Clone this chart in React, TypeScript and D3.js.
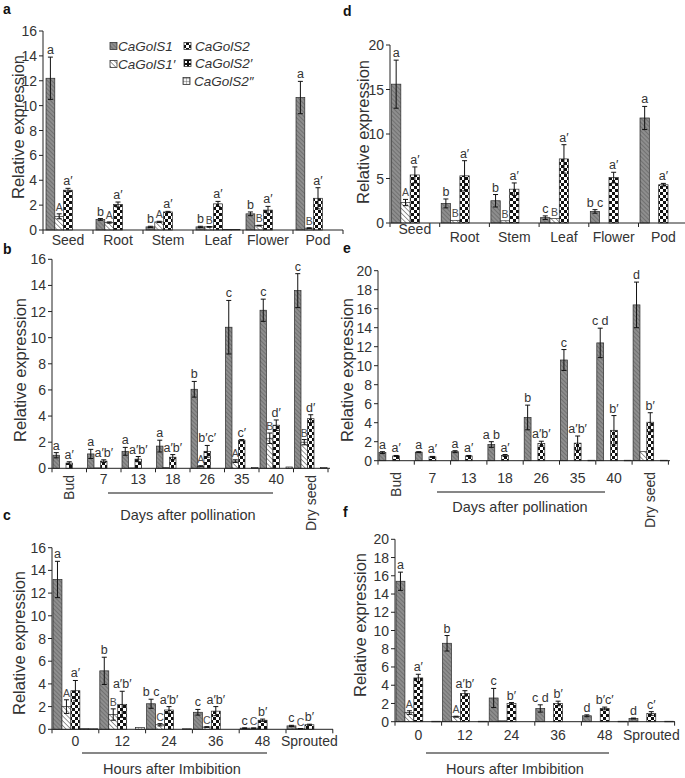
import React from "react";
import * as d3 from "d3";

const SERIES = ["CaGolS1", "CaGolS1′", "CaGolS2", "CaGolS2′", "CaGolS2″"];

// ---------- panel a (tissues, CaGolS1 family) ----------
const catsA = ["Seed", "Root", "Stem", "Leaf", "Flower", "Pod"];
const aS1 = [12.2, 0.85, 0.25, 0.25, 1.3, 10.65];
const aS1e = [1.7, 0.07, 0.05, 0.05, 0.15, 1.3];
const aS1p = [1.1, 0.6, 0.65, 0.25, 0.35, 0.15];
const aS1pe = [0.2, 0.05, 0.05, 0.03, 0.03, 0.03];
const aS2 = [3.2, 2.05, 1.45, 2.1, 1.6, 2.55];
const aS2e = [0.15, 0.2, 0.05, 0.2, 0.3, 0.85];
const aS2p = [0, 0, 0, 0.05, 0, 0];
const aS2pp = [0, 0, 0, 0.05, 0, 0];
const aLab1 = ["a", "b", "b", "b", "b", "a"];
const aLab1p = ["A", "A", "A", "B", "B", "B"];
const aLab2 = ["a′", "a′", "a′", "a′", "a′", "a′"];

// ---------- panel d ----------
const catsD = ["Seed", "Root", "Stem", "Leaf", "Flower", "Pod"];
const dS1 = [15.6, 2.2, 2.5, 0.6, 1.3, 11.8];
const dS1e = [2.7, 0.5, 0.7, 0.2, 0.2, 1.3];
const dS1p = [2.3, 0.3, 0.25, 0.5, 0, 0];
const dS1pe = [0.35, 0, 0, 0, 0, 0];
const dS2 = [5.4, 5.3, 3.8, 7.2, 5.1, 4.3];
const dS2e = [0.9, 1.7, 0.7, 1.6, 0.6, 0.15];
const dS2p = [0, 0, 0, 0, 0, 0];
const dS2pp = [0, 0, 0, 0, 0, 0];
const dLab1 = ["a", "b", "b", "c", "b c", "a"];
const dLab1p = ["A", "B", "B", "B", "", ""];
const dLab2 = ["a′", "a′", "a′", "a′", "a′", "a′"];

// ---------- panel b (seed development) ----------
const catsB = ["Bud", "7", "13", "18", "26", "35", "40", "Dry seed"];
const bS1 = [1.0, 1.1, 1.3, 1.7, 6.05, 10.8, 12.1, 13.6];
const bS1e = [0.2, 0.35, 0.3, 0.45, 0.6, 2.05, 0.85, 1.3];
const bS1p = [0, 0.03, 0.03, 0.05, 0.15, 0.55, 2.3, 2.0];
const bS1pe = [0, 0, 0, 0, 0.05, 0.1, 0.4, 0.2];
const bS2 = [0.4, 0.55, 0.7, 0.85, 1.3, 2.15, 3.3, 3.8];
const bS2e = [0.1, 0.1, 0.2, 0.2, 0.45, 0.05, 0.4, 0.3];
const bS2p = [0, 0, 0, 0, 0, 0, 0, 0];
const bS2pp = [0, 0, 0, 0, 0, 0.05, 0.1, 0.05];
const bLab1 = ["a", "a", "a", "a", "b", "c", "c", "c"];
const bLab1p = ["", "", "", "", "A", "A", "B", "B"];
const bLab2 = ["a′", "a′b′", "a′b′", "a′b′", "b′c′", "c′", "d′", "d′"];

// ---------- panel e ----------
const catsE = ["Bud", "7", "13", "18", "26", "35", "40", "Dry seed"];
const eS1 = [0.85, 0.9, 0.95, 1.7, 4.55, 10.6, 12.4, 16.4];
const eS1e = [0.1, 0.05, 0.1, 0.3, 1.3, 1.1, 1.55, 2.4];
const eS1p = [0, 0, 0, 0, 0, 0, 0, 0.95];
const eS1pe = [0, 0, 0, 0, 0, 0, 0, 0];
const eS2 = [0.5, 0.4, 0.5, 0.55, 1.8, 1.85, 3.2, 4.05];
const eS2e = [0.05, 0.05, 0.05, 0.1, 0.25, 0.75, 1.55, 1.0];
const eS2p = [0, 0, 0, 0, 0, 0, 0, 0];
const eS2pp = [0, 0, 0, 0, 0, 0.05, 0.05, 0.05];
const eLab1 = ["a", "a", "a", "a b", "b", "c", "c d", "d"];
const eLab1p = ["", "", "", "", "", "", "", ""];
const eLab2 = ["a′", "a′", "a′", "a′", "a′b′", "a′b′", "b′", "b′"];

// ---------- panel c (germination) ----------
const catsC = ["0", "12", "24", "36", "48", "Sprouted"];
const cS1 = [13.2, 5.15, 2.25, 1.5, 0.1, 0.3];
const cS1e = [1.6, 1.2, 0.4, 0.25, 0.03, 0.05];
const cS1p = [2.0, 1.3, 0.4, 0.2, 0.1, 0.05];
const cS1pe = [0.6, 0.5, 0.1, 0.03, 0.02, 0.02];
const cS2 = [3.4, 2.2, 1.7, 1.6, 0.8, 0.4];
const cS2e = [0.9, 1.15, 0.3, 0.4, 0.1, 0.05];
const cS2p = [0.05, 0, 0, 0, 0, 0];
const cS2pp = [0.05, 0.15, 0.05, 0, 0, 0];
const cLab1 = ["a", "b", "b c", "c", "c", "c"];
const cLab1p = ["A", "B", "C", "C", "C", "C"];
const cLab2 = ["a′", "a′b′", "a′b′", "a′b′", "b′", "b′"];

// ---------- panel f ----------
const catsF = ["0", "12", "24", "36", "48", "Sprouted"];
const fS1 = [15.4, 8.6, 2.6, 1.45, 0.65, 0.35];
const fS1e = [1.0, 0.85, 1.05, 0.4, 0.1, 0.05];
const fS1p = [1.0, 0.55, 0.1, 0, 0, 0];
const fS1pe = [0.2, 0.05, 0, 0, 0, 0];
const fS2 = [4.8, 3.1, 2.0, 2.0, 1.45, 0.9];
const fS2e = [0.4, 0.3, 0.1, 0.25, 0.15, 0.2];
const fS2p = [0, 0, 0, 0, 0, 0];
const fS2pp = [0.05, 0.05, 0, 0, 0.05, 0.05];
const fLab1 = ["a", "b", "c", "c d", "d", "d"];
const fLab1p = ["A", "A", "", "", "", ""];
const fLab2 = ["a′", "a′b′", "b′", "b′", "b′c′", "c′"];

const FONT = "Liberation Sans, Arial, sans-serif";
const TXT = "#333";
const zeros = (n: number) => new Array(n).fill(0);

type Cfg = {
  letter: string; letterX: number; letterY: number;
  cats: string[]; vals: number[][]; errs: number[][]; labs: string[][];
  xStart: number; band: number; pad: number; axisEnd: number;
  y0: number; yTop: number; yMax: number; step: number;
  catY: number; catDy?: number[]; rotated?: string[]; rotY?: number;
  yLabX: number; yLabY: number;
  under?: { x1: number; x2: number; y: number; text: string; ty: number; tx: number };
};

function Panel({ cfg }: { cfg: Cfg }) {
  const n = cfg.cats.length;
  const x0 = d3.scaleBand<string>().domain(cfg.cats)
    .range([cfg.xStart, cfg.xStart + cfg.band * n]).paddingInner(0).paddingOuter(0);
  const x1 = d3.scaleBand<string>().domain(SERIES)
    .range([cfg.pad, cfg.band - cfg.pad]).paddingInner(0);
  const y = d3.scaleLinear().domain([0, cfg.yMax]).range([cfg.y0, cfg.yTop]);
  const ticks = d3.range(0, cfg.yMax + cfg.step / 2, cfg.step);
  const bw = x1.bandwidth();
  const els: React.ReactNode[] = [];

  cfg.cats.forEach((c, i) => {
    SERIES.forEach((s, si) => {
      const v = cfg.vals[si][i];
      if (!v) return;
      const bx = (x0(c) as number) + (x1(s) as number);
      els.push(
        <rect key={`b${i}-${si}`} x={bx} y={y(v)} width={bw} height={Math.max(0.6, y(0) - y(v))}
          fill={`url(#pat${si})`} stroke="#2a2a2a" strokeWidth={0.7} />
      );
      const e = cfg.errs[si][i];
      const cx = bx + bw / 2;
      if (e > 0) {
        els.push(
          <g key={`e${i}-${si}`} stroke="#111" strokeWidth={1}>
            <line x1={cx} x2={cx} y1={y(v + e)} y2={y(Math.max(0, v - e))} />
            <line x1={cx - 2.5} x2={cx + 2.5} y1={y(v + e)} y2={y(v + e)} />
            <line x1={cx - 2.5} x2={cx + 2.5} y1={y(Math.max(0, v - e))} y2={y(Math.max(0, v - e))} />
          </g>
        );
      }
      if (si < 3) {
        const lab = cfg.labs[si][i];
        if (lab) {
          const upper = si === 1;
          els.push(
            <text key={`l${i}-${si}`} x={cx} y={y(v + e) - 3} textAnchor="middle"
              fontSize={upper ? 10.5 : 12.5} fill={upper ? "#4a4a4a" : TXT} fontFamily={FONT}>{lab}</text>
          );
        }
      }
    });
  });

  return (
    <g>
      <text x={cfg.letterX} y={cfg.letterY} fontSize={14} fontWeight="bold" fill="#111" fontFamily={FONT}>{cfg.letter}</text>
      <line x1={cfg.xStart} x2={cfg.xStart} y1={cfg.y0} y2={cfg.yTop} stroke="#222" strokeWidth={1} />
      {ticks.map((t) => (
        <g key={`t${t}`}>
          <line x1={cfg.xStart - 4} x2={cfg.xStart} y1={y(t)} y2={y(t)} stroke="#222" />
          <text x={cfg.xStart - 6} y={y(t)} dy="0.36em" textAnchor="end" fontSize={14} fill={TXT} fontFamily={FONT}>{t}</text>
        </g>
      ))}
      <text transform={`translate(${cfg.yLabX},${cfg.yLabY}) rotate(-90)`} dy="0.35em" textAnchor="middle"
        fontSize={16.5} fill={TXT} fontFamily={FONT}>Relative expression</text>
      {els}
      <line x1={cfg.xStart} x2={cfg.axisEnd} y1={cfg.y0} y2={cfg.y0} stroke="#222" strokeWidth={1} />
      {d3.range(n + 1).map((k) => (
        <line key={`xt${k}`} x1={cfg.xStart + k * cfg.band} x2={cfg.xStart + k * cfg.band}
          y1={cfg.y0} y2={cfg.y0 + 4} stroke="#222" />
      ))}
      {cfg.cats.map((c, i) => {
        const cx = (x0(c) as number) + cfg.band / 2;
        if (cfg.rotated && cfg.rotated.includes(c)) {
          return (
            <text key={`c${i}`} transform={`translate(${cx},${cfg.rotY}) rotate(-90)`} dy="0.35em"
              textAnchor="end" fontSize={14} fill={TXT} fontFamily={FONT}>{c}</text>
          );
        }
        return (
          <text key={`c${i}`} x={cx} y={cfg.catY + (cfg.catDy ? cfg.catDy[i] : 0)} textAnchor="middle"
            fontSize={14} fill={TXT} fontFamily={FONT}>{c}</text>
        );
      })}
      {cfg.under && (
        <g>
          <line x1={cfg.under.x1} x2={cfg.under.x2} y1={cfg.under.y} y2={cfg.under.y} stroke="#111" strokeWidth={1.2} />
          <text x={cfg.under.tx} y={cfg.under.ty} textAnchor="middle" fontSize={14.5} fill={TXT} fontFamily={FONT}>{cfg.under.text}</text>
        </g>
      )}
    </g>
  );
}

const panels: Cfg[] = [
  {
    letter: "a", letterX: 3, letterY: 14, cats: catsA,
    vals: [aS1, aS1p, aS2, aS2p, aS2pp], errs: [aS1e, aS1pe, aS2e, zeros(6), zeros(6)],
    labs: [aLab1, aLab1p, aLab2],
    xStart: 43, band: 50, pad: 3, axisEnd: 343, y0: 230, yTop: 31, yMax: 16, step: 2,
    catY: 245, yLabX: 18, yLabY: 127,
  },
  {
    letter: "d", letterX: 343, letterY: 16, cats: catsD,
    vals: [dS1, dS1p, dS2, dS2p, dS2pp], errs: [dS1e, dS1pe, dS2e, zeros(6), zeros(6)],
    labs: [dLab1, dLab1p, dLab2],
    xStart: 390, band: 49.7, pad: 1.5, axisEnd: 689, y0: 223, yTop: 45, yMax: 20, step: 5,
    catY: 242, catDy: [-8, 0, 0, 0, 0, 0], yLabX: 363, yLabY: 132,
  },
  {
    letter: "b", letterX: 3, letterY: 254, cats: catsB,
    vals: [bS1, bS1p, bS2, bS2p, bS2pp], errs: [bS1e, bS1pe, bS2e, zeros(8), zeros(8)],
    labs: [bLab1, bLab1p, bLab2],
    xStart: 52, band: 34.5, pad: 1, axisEnd: 330, y0: 468.3, yTop: 259.3, yMax: 16, step: 2,
    catY: 484, rotated: ["Bud", "Dry seed"], rotY: 475, yLabX: 20, yLabY: 370,
    under: { x1: 108, x2: 273, y: 493, text: "Days after pollination", ty: 520, tx: 188 },
  },
  {
    letter: "e", letterX: 343, letterY: 253, cats: catsE,
    vals: [eS1, eS1p, eS2, eS2p, eS2pp], errs: [eS1e, eS1pe, eS2e, zeros(8), zeros(8)],
    labs: [eLab1, eLab1p, eLab2],
    xStart: 378, band: 36.3, pad: 1, axisEnd: 670, y0: 460.7, yTop: 270.7, yMax: 20, step: 2,
    catY: 483, rotated: ["Bud", "Dry seed"], rotY: 472, yLabX: 347, yLabY: 370,
    under: { x1: 437, x2: 605, y: 492, text: "Days after pollination", ty: 512, tx: 520 },
  },
  {
    letter: "c", letterX: 3, letterY: 520, cats: catsC,
    vals: [cS1, cS1p, cS2, cS2p, cS2pp], errs: [cS1e, cS1pe, cS2e, zeros(6), zeros(6)],
    labs: [cLab1, cLab1p, cLab2],
    xStart: 52, band: 46.8, pad: 1, axisEnd: 333, y0: 729.3, yTop: 547.7, yMax: 16, step: 2,
    catY: 746, yLabX: 19, yLabY: 643,
    under: { x1: 82, x2: 267, y: 753, text: "Hours after Imbibition", ty: 774, tx: 172 },
  },
  {
    letter: "f", letterX: 343, letterY: 517, cats: catsF,
    vals: [fS1, fS1p, fS2, fS2p, fS2pp], errs: [fS1e, fS1pe, fS2e, zeros(6), zeros(6)],
    labs: [fLab1, fLab1p, fLab2],
    xStart: 395, band: 46.6, pad: 1, axisEnd: 675, y0: 721.7, yTop: 539.3, yMax: 20, step: 2,
    catY: 740, yLabX: 360, yLabY: 625,
    under: { x1: 426, x2: 609, y: 753, text: "Hours after Imbibition", ty: 774, tx: 515 },
  },
];

const legendPos = [
  { x: 110, y: 46 }, { x: 110, y: 64 }, { x: 184, y: 46 }, { x: 184, y: 63 }, { x: 183, y: 81 },
];

export default function App() {
  return (
    <svg width={685} height={778} style={{ position: "absolute", left: 0, top: 0, background: "#fff" }}>
      <defs>
        <pattern id="pat0" width="3" height="3" patternUnits="userSpaceOnUse" patternTransform="rotate(-45)">
          <rect width="3" height="3" fill="#8e8e8e" />
          <line x1="0" y1="0" x2="0" y2="3" stroke="#5e5e5e" strokeWidth="1.2" />
        </pattern>
        <pattern id="pat1" width="3.4" height="3.4" patternUnits="userSpaceOnUse" patternTransform="rotate(-45)">
          <rect width="3.4" height="3.4" fill="#fff" />
          <line x1="0" y1="0" x2="0" y2="3.4" stroke="#444" strokeWidth="1.1" />
        </pattern>
        <pattern id="pat2" width="6" height="6" patternUnits="userSpaceOnUse">
          <rect width="6" height="6" fill="#fff" />
          <rect width="3" height="3" fill="#111" />
          <rect x="3" y="3" width="3" height="3" fill="#111" />
        </pattern>
        <pattern id="pat3" width="4" height="4" patternUnits="userSpaceOnUse">
          <rect width="4" height="4" fill="#111" />
          <rect x="1" y="1" width="2" height="2" fill="#fff" />
        </pattern>
        <pattern id="pat4" width="3" height="3" patternUnits="userSpaceOnUse">
          <rect width="3" height="3" fill="#f4f4f4" />
          <line x1="0" y1="0" x2="3" y2="0" stroke="#555" strokeWidth="0.8" />
          <line x1="0" y1="0" x2="0" y2="3" stroke="#555" strokeWidth="0.8" />
        </pattern>
      </defs>
      {panels.map((p, i) => <Panel key={i} cfg={p} />)}
      {SERIES.map((s, i) => (
        <g key={`lg${i}`}>
          <rect x={legendPos[i].x} y={legendPos[i].y - 3.5} width={7} height={7} fill={`url(#pat${i})`} stroke="#333" strokeWidth={0.8} />
          <text x={legendPos[i].x + (i < 2 ? 8 : 11)} y={legendPos[i].y} dy="0.35em" fontSize={13.5}
            fontStyle="italic" fill={TXT} fontFamily={FONT}>{s}</text>
        </g>
      ))}
    </svg>
  );
}
